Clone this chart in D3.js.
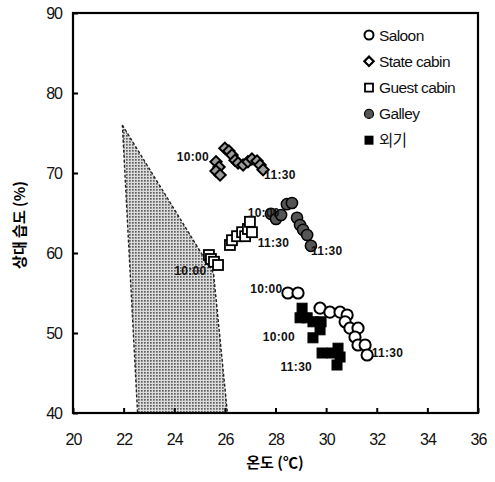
<!DOCTYPE html>
<html><head><meta charset="utf-8">
<script src="https://cdn.jsdelivr.net/npm/d3@7"></script>
<style>
body{margin:0;background:#fff;}
svg{display:block;font-family:"Liberation Sans",Arial,sans-serif;}
</style></head>
<body>
<svg id="c" width="495" height="482"></svg>
<script>
const xTicks = [20,22,24,26,28,30,32,34,36];
const yTicks = [40,50,60,70,80,90];
const xTitle = "온도 (℃)";
const yTitle = "상대 습도 (%)";
const seriesNames = ["Saloon","State cabin","Guest cabin","Galley","외기"];

const saloon = [[28.49,55.0],[28.89,55.0],[29.76,53.1],[30.15,52.6],[30.55,52.6],[30.83,52.25],[30.75,51.4],[30.94,50.6],[31.26,50.6],[31.14,49.5],[31.26,48.5],[31.54,48.5],[31.62,47.25]];
const stateCabin = [[25.65,71.4],[25.77,70.75],[25.65,70.25],[25.81,69.75],[26.0,73.1],[26.16,72.75],[26.28,72.25],[26.4,71.6],[26.52,71.25],[26.72,71.0],[26.91,71.4],[27.07,71.75],[27.27,71.5],[27.39,71.0],[27.51,70.4]];
const guestCabin = [[25.37,59.75],[25.45,59.25],[25.57,58.9],[25.73,58.5],[26.2,61.0],[26.28,61.6],[26.48,62.1],[26.68,62.6],[26.8,62.1],[26.91,63.0],[27.07,62.6],[26.99,63.9]];
const galley = [[27.82,64.9],[28.02,64.25],[28.22,64.75],[28.45,66.1],[28.65,66.25],[28.85,64.4],[28.97,63.5],[29.09,62.9],[29.25,62.25],[29.4,60.9]];
const outside = [[29.05,53.1],[28.97,51.9],[29.25,51.9],[29.48,51.4],[29.8,51.4],[29.76,50.4],[29.48,49.4],[29.84,47.5],[30.23,47.5],[30.47,48.1],[30.55,47.0],[30.43,46.0]];
const comfortZone = [[21.95,76],[25.55,57.5],[26.1,40],[22.55,40]];
// time annotations: [x, y, text]
const timeLabels = [
  [24.1,71.5,"10:00"],[27.55,69.3,"11:30"],
  [26.9,64.5,"10:00"],[27.3,60.8,"11:30"],
  [24.0,57.2,"10:00"],[29.4,59.8,"11:30"],
  [27.0,55.0,"10:00"],[31.8,47.0,"11:30"],
  [27.5,49.0,"10:00"],[28.2,45.2,"11:30"]
];

const svg = d3.select("#c");
const x = d3.scaleLinear().domain([20,36]).range([73,478]);
const y = d3.scaleLinear().domain([40,90]).range([413,13]);

const defs = svg.append("defs");
const pat = defs.append("pattern").attr("id","dots").attr("width",3).attr("height",3).attr("patternUnits","userSpaceOnUse");
pat.append("rect").attr("width",3).attr("height",3).attr("fill","#dcdcdc");
pat.append("rect").attr("width",1.7).attr("height",1.7).attr("fill","#5f5f5f");

// comfort zone
svg.append("path")
  .attr("d", d3.line().x(d=>x(d[0])).y(d=>y(d[1]))(comfortZone) + "Z")
  .attr("fill","url(#dots)").attr("stroke","#222").attr("stroke-width",1.4)
  .attr("stroke-dasharray","3,2");

// axes
const xAxis = d3.axisBottom(x).tickValues(xTicks).tickSizeInner(-5).tickSizeOuter(0).tickPadding(18);
const yAxis = d3.axisLeft(y).tickValues(yTicks).tickSizeInner(-5).tickSizeOuter(0).tickPadding(11);
const gx = svg.append("g").attr("transform","translate(0,413)").call(xAxis);
const gy = svg.append("g").attr("transform","translate(73,0)").call(yAxis);
[gx,gy].forEach(g=>{
  g.select(".domain").remove();
  g.selectAll("line").attr("stroke","#000").attr("stroke-width",2);
  g.selectAll("text").attr("font-size",16).attr("fill","#111").attr("letter-spacing","-1");
});
gx.selectAll("text").attr("dy","0.9em");
// frame
svg.append("rect").attr("x",73).attr("y",13).attr("width",405).attr("height",400)
  .attr("fill","none").attr("stroke","#000").attr("stroke-width",2.2);

// titles
svg.append("text").attr("x",275).attr("y",468).attr("text-anchor","middle")
  .attr("font-size",15).attr("font-weight","bold").attr("font-family","'Noto Sans CJK KR',sans-serif").text(xTitle);
svg.append("text").attr("transform","translate(25,225) rotate(-90)").attr("text-anchor","middle")
  .attr("font-size",15).attr("font-weight","bold").attr("font-family","'Noto Sans CJK KR',sans-serif").text(yTitle);

// markers
function drawMarker(g, type, cx, cy){
  if(type===0){
    g.append("circle").attr("cx",cx).attr("cy",cy).attr("r",5.6).attr("fill","#fff").attr("stroke","#000").attr("stroke-width",2);
  } else if(type===1){
    g.append("rect").attr("x",-4).attr("y",-4).attr("width",8).attr("height",8)
      .attr("transform",`translate(${cx},${cy}) rotate(45)`)
      .attr("fill","#9a9a9a").attr("stroke","#000").attr("stroke-width",2);
  } else if(type===2){
    g.append("rect").attr("x",cx-5).attr("y",cy-5).attr("width",10).attr("height",10).attr("fill","#fff").attr("stroke","#000").attr("stroke-width",1.8);
  } else if(type===3){
    g.append("circle").attr("cx",cx).attr("cy",cy).attr("r",5.6).attr("fill","#555").attr("stroke","#000").attr("stroke-width",1.5);
  } else {
    g.append("rect").attr("x",cx-5).attr("y",cy-5).attr("width",10).attr("height",10).attr("fill","#000").attr("stroke","#000").attr("stroke-width",1);
  }
}
const allSeries = [saloon,stateCabin,guestCabin,galley,outside];
const order = [1,2,3,4,0];
order.forEach(i=>{
  const g = svg.append("g");
  allSeries[i].forEach(d=>drawMarker(g,i,x(d[0]),y(d[1])));
});

// time labels
svg.append("g").selectAll("text").data(timeLabels).join("text")
  .attr("x",d=>x(d[0])).attr("y",d=>y(d[1])).attr("font-size",12).attr("font-weight","bold")
  .attr("letter-spacing","0.3").attr("fill","#111").text(d=>d[2]);

// legend
const lg = svg.append("g");
seriesNames.forEach((n,i)=>{
  const cy = 35 + i*26.3;
  const g = lg.append("g");
  if(i===0) g.append("circle").attr("cx",369).attr("cy",cy).attr("r",4.5).attr("fill","#fff").attr("stroke","#000").attr("stroke-width",2);
  else if(i===1) g.append("rect").attr("x",-3.3).attr("y",-3.3).attr("width",6.6).attr("height",6.6).attr("transform",`translate(369,${cy}) rotate(45)`).attr("fill","#fff").attr("stroke","#000").attr("stroke-width",2.2);
  else if(i===2) g.append("rect").attr("x",365).attr("y",cy-4).attr("width",8).attr("height",8).attr("fill","#fff").attr("stroke","#000").attr("stroke-width",1.8);
  else if(i===3) g.append("circle").attr("cx",369).attr("cy",cy).attr("r",4.5).attr("fill","#555").attr("stroke","#000").attr("stroke-width",1.2);
  else g.append("rect").attr("x",364.5).attr("y",cy-4.5).attr("width",9).attr("height",9).attr("fill","#000");
  g.append("text").attr("x",379).attr("y",cy).attr("dy","0.36em").attr("font-size",15.5)
    .attr("letter-spacing","-0.6").attr("fill","#111")
    .attr("font-family", i===4 ? "'Noto Sans CJK KR',sans-serif" : null).text(n);
});
</script>
</body></html>
